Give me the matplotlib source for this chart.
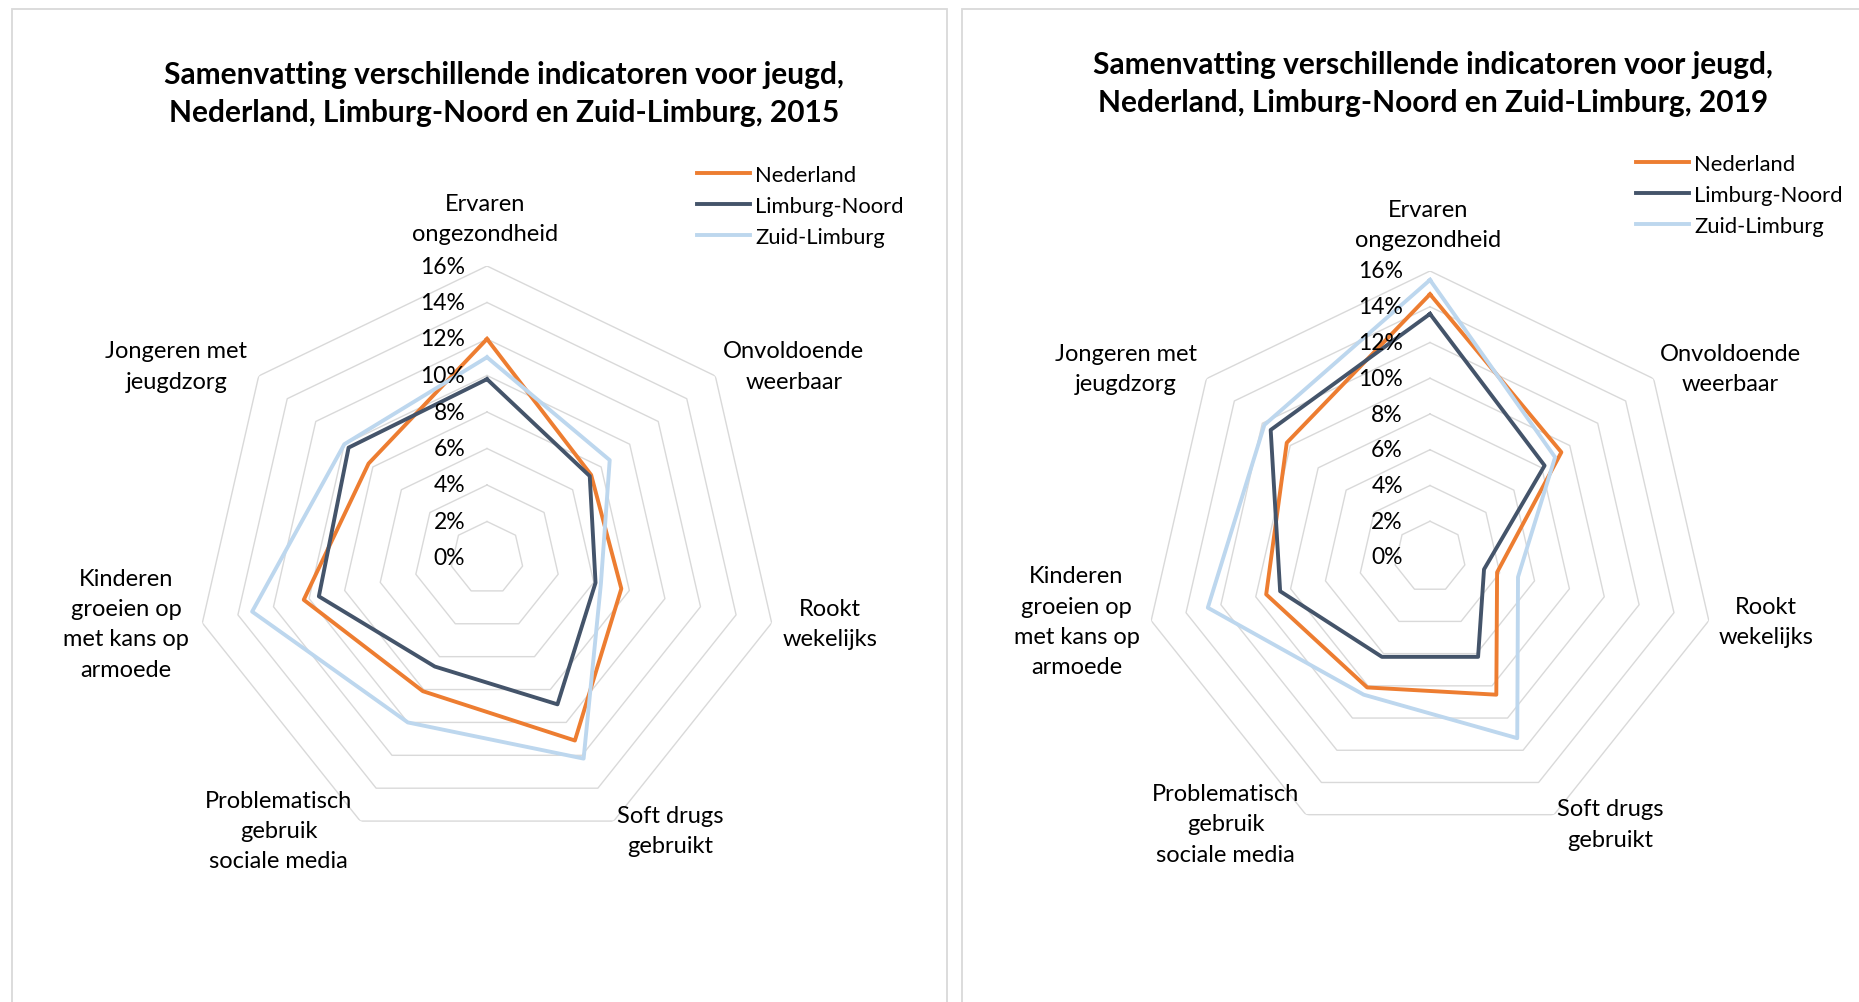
import numpy as np
import matplotlib.pyplot as plt
from matplotlib.patches import Rectangle

plt.rcParams['font.family'] = ['Lato', 'DejaVu Sans']

# categories (clockwise from top) and series
categories = ['Ervaren\nongezondheid', 'Onvoldoende\nweerbaar', 'Rookt\nwekelijks',
              'Soft drugs\ngebruikt', 'Problematisch\ngebruik\nsociale media',
              'Kinderen\ngroeien op\nmet kans op\narmoede', 'Jongeren met\njeugdzorg']
series_names = ['Nederland', 'Limburg-Noord', 'Zuid-Limburg']
colors = ['#ED7D31', '#44546A', '#BDD7EE']

# values in %
nl_2015 = [12.0, 7.3, 7.55, 11.1, 8.1, 10.3, 8.3]
ln_2015 = [9.8, 7.2, 6.1, 8.9, 6.6, 9.45, 9.7]
zl_2015 = [11.0, 8.6, 6.4, 12.2, 10.0, 13.2, 10.0]

nl_2019 = [14.7, 9.4, 3.85, 8.55, 8.1, 9.4, 10.25]
ln_2019 = [13.6, 8.2, 3.1, 6.2, 6.2, 8.6, 11.4]
zl_2019 = [15.5, 8.95, 5.05, 11.25, 8.55, 12.75, 11.85]

ticks = [0, 2, 4, 6, 8, 10, 12, 14, 16]

W, H = 1859, 1003
fig = plt.figure(figsize=(W / 100, H / 100), dpi=100)

# panel borders
fig.add_artist(Rectangle((12 / W, -0.1), (947 - 12) / W, 1.1 - 10 / H,
                         transform=fig.transFigure, fill=False, ec='#D9D9D9', lw=1.3))
fig.add_artist(Rectangle((962 / W, -0.1), 0.5, 1.1 - 10 / H,
                         transform=fig.transFigure, fill=False, ec='#D9D9D9', lw=1.3))

# where the category labels sit, as fraction of the outer ring radius
lab_off = [(-0.006, 1.162), (1.051, 0.658), (1.175, -0.225), (0.629, -0.933),
           (-0.714, -0.933), (-1.236, -0.225), (-1.064, 0.658)]


def radar(cx, cy, R, tick_gap, title, title_xy, data, leg_xy):
    ax = fig.add_axes([(cx - R) / W, 1 - (cy + R) / H, 2 * R / W, 2 * R / H],
                      projection='polar')
    ax.set_theta_offset(np.pi / 2)
    ax.set_theta_direction(-1)
    ax.set_ylim(0, 16)
    ax.axis('off')

    n = len(categories)
    ang = np.arange(n + 1) * 2 * np.pi / n

    # heptagon rings
    for t in ticks[1:]:
        ax.plot(ang, [t] * (n + 1), color='#D9D9D9', lw=1.0, zorder=1)

    for vals, name, c in zip(data, series_names, colors):
        ax.plot(ang, vals + vals[:1], color=c, lw=2.8, label=name, zorder=3)

    # radial tick labels
    for t in ticks:
        ax.text(0.5 - tick_gap / (2 * R), 0.5 + 0.5 * t / 16, f'{t}%', transform=ax.transAxes,
                ha='right', va='center', fontsize=16.5)

    for lab, (dx, dy) in zip(categories, lab_off):
        ax.text(0.5 + 0.5 * dx, 0.5 + 0.5 * dy, lab, transform=ax.transAxes,
                ha='center', va='center', fontsize=17, linespacing=1.55)

    fig.text(title_xy[0] / W, 1 - title_xy[1] / H, title, ha='center', va='center',
             fontsize=21.5, fontweight='bold', linespacing=1.45)

    ax.legend(loc='upper left', bbox_to_anchor=(leg_xy[0] / W, 1 - leg_xy[1] / H),
              bbox_transform=fig.transFigure, frameon=False, borderpad=0,
              borderaxespad=0, handlelength=2.4, handletextpad=0.25,
              labelspacing=0.5, fontsize=15.8)


radar(487, 559, 292, 22,
      'Samenvatting verschillende indicatoren voor jeugd,\nNederland, Limburg-Noord en Zuid-Limburg, 2015',
      (504, 94), [nl_2015, ln_2015, zl_2015], (697, 166))
radar(1430, 558, 286, 27,
      'Samenvatting verschillende indicatoren voor jeugd,\nNederland, Limburg-Noord en Zuid-Limburg, 2019',
      (1433, 84), [nl_2019, ln_2019, zl_2019], (1636, 155))

fig.savefig('out.png', dpi=100)
